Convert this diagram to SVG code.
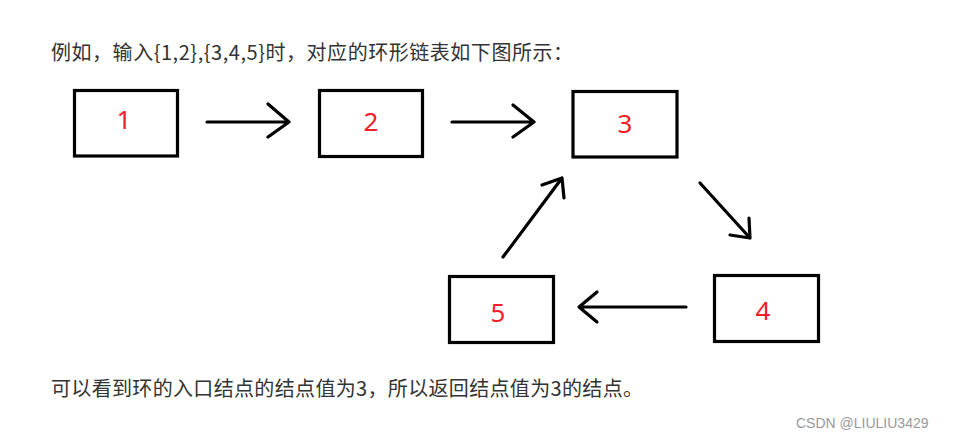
<svg xmlns="http://www.w3.org/2000/svg" width="955" height="439" viewBox="0 0 955 439">
<style>
.box{fill:#fff;stroke:#000;stroke-width:3.2}
.num{font-family:"Noto Sans","Liberation Sans",sans-serif;font-size:26px;fill:#f0202a;text-anchor:middle}
.txt{font-family:"Noto Sans CJK SC","Liberation Sans",sans-serif;font-size:20px;fill:#333}
.arr{fill:none;stroke:#000;stroke-width:3.2;stroke-linecap:round;stroke-linejoin:round}
.wm{font-family:"Liberation Sans","Noto Sans",sans-serif;font-size:14px;fill:#999}
</style>
<rect width="955" height="439" fill="#fff"/>
<text class="txt" x="51" y="60" textLength="522" lengthAdjust="spacing">例如，输入{1,2},{3,4,5}时，对应的环形链表如下图所示：</text>
<g id="node1"><rect class="box" x="74.5" y="90.5" width="103" height="65.5"/><text class="num" x="124" y="129">1</text></g>
<g id="node2"><rect class="box" x="319.5" y="90.5" width="103" height="66"/><text class="num" x="371" y="131">2</text></g>
<g id="node3"><rect class="box" x="573" y="91.5" width="104" height="65.5"/><text class="num" x="625" y="133">3</text></g>
<g id="node4"><rect class="box" x="714.5" y="275.5" width="104" height="66"/><text class="num" x="763" y="320">4</text></g>
<g id="node5"><rect class="box" x="449.5" y="276.5" width="104" height="66"/><text class="num" x="498" y="322">5</text></g>
<g id="connectors">
<path class="arr" d="M207 122 H289 M268 104 L289 122 L268 137"/>
<path class="arr" d="M452 122 H534 M513 105 L534 122 L513 137"/>
<path class="arr" d="M700 183 L750 238 M730 235 L750 238 L749 218"/>
<path class="arr" d="M686 307 H579 M597 292 L579 307 L597 322"/>
<path class="arr" d="M503 257 L562 178 M542 185 L562 178 L564 198"/>
</g>
<text class="txt" x="51" y="396" textLength="592" lengthAdjust="spacing">可以看到环的入口结点的结点值为3，所以返回结点值为3的结点。</text>
<text class="wm" x="796" y="428">CSDN @LIULIU3429</text>
</svg>
